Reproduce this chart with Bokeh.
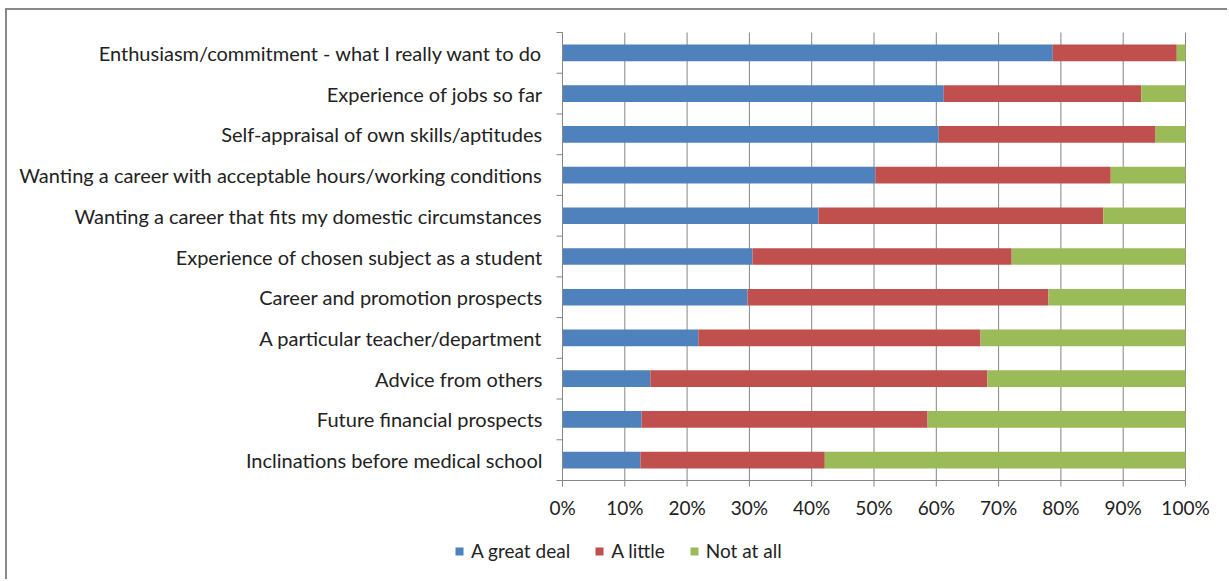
import math
from bokeh.plotting import figure
from bokeh.models import ColumnDataSource, Range1d, Legend, LegendItem
from bokeh.core.properties import value
from bokeh.embed import file_html
from bokeh.resources import INLINE

categories = [
    "Enthusiasm/commitment - what I really want to do",
    "Experience of jobs so far",
    "Self-appraisal of own skills/aptitudes",
    "Wanting a career with acceptable hours/working conditions",
    "Wanting a career that fits my domestic circumstances",
    "Experience of chosen subject as a student",
    "Career and promotion prospects",
    "A particular teacher/department",
    "Advice from others",
    "Future financial prospects",
    "Inclinations before medical school",
]
great_deal = [78.7, 61.2, 60.4, 50.2, 41.1, 30.5, 29.7, 21.8, 14.1, 12.7, 12.5]
a_little = [19.9, 31.7, 34.8, 37.8, 45.7, 41.6, 48.3, 45.3, 54.1, 45.9, 29.6]
not_at_all = [1.4, 7.1, 4.8, 12.0, 13.2, 27.9, 22.0, 32.9, 31.8, 41.4, 57.9]
series_names = ["A great deal", "A little", "Not at all"]
colors = ["#4F81BD", "#C0504D", "#9BBB59"]
x_ticks = [0, 0.1, 0.2, 0.3, 0.4, 0.5, 0.6, 0.7, 0.8, 0.9, 1.0]
x_tick_labels = ["0%", "10%", "20%", "30%", "40%", "50%", "60%", "70%", "80%", "90%", "100%"]

n = len(categories)
ypos = [n - 1 - i + 0.5 for i in range(n)]
totals = [a + b + c for a, b, c in zip(great_deal, a_little, not_at_all)]
g = [v / t for v, t in zip(great_deal, totals)]
l = [v / t for v, t in zip(a_little, totals)]
s0 = [0] * n
s1 = g
s2 = [a + b for a, b in zip(g, l)]
s3 = [1.0] * n

# canvas / frame geometry (pixels)
W, H = 1222, 571
PLOT_L, PLOT_R, PLOT_T, PLOT_B = 555, 1178, 22, 470
xscale = (PLOT_R - PLOT_L)  # px per unit
yscale = (PLOT_B - PLOT_T) / n
x0 = -PLOT_L / xscale
x1 = x0 + W / xscale
y1 = n + PLOT_T / yscale
y0 = -(H - PLOT_B) / yscale

FONT = "Lato"
TXT = "#222222"
AXC = "#868686"

p = figure(width=W, height=H, output_backend="svg", toolbar_location=None,
           x_range=Range1d(x0, x1), y_range=Range1d(y0, y1),
           x_axis_location=None, y_axis_location=None, min_border=0)
p.styles = {"border-top": "2px solid #898989", "border-left": "2px solid #898989",
            "margin-left": "5px", "margin-top": "8px"}
p.outline_line_color = None
p.background_fill_color = "white"
p.border_fill_color = "white"
p.xgrid.visible = False
p.ygrid.visible = False

# vertical gridlines
grid_src = ColumnDataSource(dict(x=x_ticks, y0=[0] * len(x_ticks), y1=[n] * len(x_ticks)))
p.segment(x0="x", y0="y0", x1="x", y1="y1", source=grid_src, line_color=AXC, line_width=1)

src = ColumnDataSource(dict(y=ypos, s0=s0, s1=s1, s2=s2, s3=s3, label=categories))
bh = 0.41
r0 = p.hbar(y="y", left="s0", right="s1", height=bh, source=src, fill_color=colors[0], line_color=None)
r1 = p.hbar(y="y", left="s1", right="s2", height=bh, source=src, fill_color=colors[1], line_color=None)
r2 = p.hbar(y="y", left="s2", right="s3", height=bh, source=src, fill_color=colors[2], line_color=None)

# axis lines
p.segment(x0=[0], y0=[0], x1=[0], y1=[n], line_color=AXC, line_width=1)
p.segment(x0=[0], y0=[0], x1=[1], y1=[0], line_color=AXC, line_width=1)

# y ticks at category boundaries
bounds = list(range(n + 1))
p.ray(x=[0] * len(bounds), y=bounds, length=6, length_units="screen", angle=math.pi,
      line_color=AXC, line_width=1)
# x ticks
p.ray(x=x_ticks, y=[0] * len(x_ticks), length=6, length_units="screen", angle=-math.pi / 2,
      line_color=AXC, line_width=1)

# category labels
p.text(x=0, y="y", text="label", source=src, x_offset=-20, text_align="right",
       text_baseline="middle", text_font=value(FONT), text_font_size=value("20px"),
       text_color=TXT)
# x tick labels
tick_src = ColumnDataSource(dict(x=x_ticks, y=[0] * len(x_ticks), t=x_tick_labels))
p.text(x="x", y="y", text="t", source=tick_src, y_offset=27, text_align="center",
       text_baseline="middle", text_font=value(FONT), text_font_size=value("19px"),
       text_color=TXT)

legend = Legend(items=[LegendItem(label=series_names[0], renderers=[r0]),
                       LegendItem(label=series_names[1], renderers=[r1]),
                       LegendItem(label=series_names[2], renderers=[r2])],
                orientation="horizontal", location=(447, 19),
                label_text_font=FONT, label_text_font_size="19px", label_text_color=TXT,
                glyph_width=10, glyph_height=10, label_height=20, label_standoff=7, spacing=24,
                padding=0, margin=0, border_line_color=None, background_fill_alpha=0)
p.add_layout(legend, "center")

open("out.html", "w").write(file_html(p, INLINE))
